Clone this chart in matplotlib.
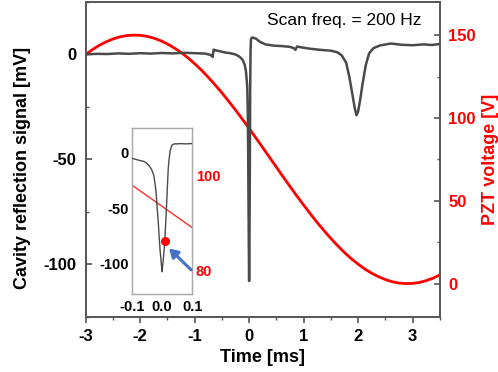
import matplotlib
matplotlib.use("Agg")
import matplotlib.pyplot as plt
from matplotlib.ticker import MultipleLocator

plt.rcParams['font.family'] = ['Liberation Sans', 'DejaVu Sans']
plt.rcParams['axes.unicode_minus'] = False

# ---- data ----
# main cavity reflection signal [mV] vs time [ms]
t_sig = [-3.0, -2.8, -2.6, -2.4, -2.2, -2.0, -1.8, -1.6, -1.4, -1.2, -1.0, -0.8,
         -0.7, -0.67, -0.65, -0.62, -0.55, -0.45, -0.35, -0.25, -0.18, -0.12, -0.08,
         -0.058, -0.035, -0.024, -0.017, -0.010, -0.004, 0.0, 0.004, 0.009, 0.015,
         0.02, 0.026, 0.033, 0.048, 0.07, 0.12, 0.2, 0.3, 0.45, 0.6, 0.75, 0.82,
         0.85, 0.88, 0.95, 1.1, 1.3, 1.5, 1.62, 1.7, 1.78, 1.84, 1.9, 1.94, 1.97,
         2.0, 2.04, 2.08, 2.14, 2.2, 2.28, 2.4, 2.6, 2.8, 3.0, 3.2, 3.35, 3.5]
sig_mv = [0.0, 0.3, 0.2, 0.5, 0.3, 0.6, 0.4, 0.7, 0.5, 0.8, 0.6, 0.4,
          -0.3, -1.2, 2.3, 2.0, 1.6, 1.0, 0.6, 0.0, -1.0, -2.5, -5.0,
          -8.0, -15.0, -27.0, -48.0, -75.0, -96.0, -108.0, -96.0, -78.0, -45.0,
          -15.0, 1.0, 7.0, 8.0, 8.0, 7.6, 6.0, 4.8, 4.2, 4.0, 3.6, 3.0,
          2.2, 3.8, 3.4, 2.8, 2.2, 1.8, 1.0, -0.5, -4.0, -11.0, -20.0, -26.0, -29.0,
          -27.0, -21.0, -14.0, -5.0, 0.5, 3.0, 4.3, 5.2, 4.6, 4.4, 4.8, 4.5, 5.0]

# PZT voltage [V] vs time [ms]
t_pzt = [-3.0, -2.875, -2.75, -2.625, -2.5, -2.375, -2.25, -2.125, -2.0, -1.875,
         -1.75, -1.625, -1.5, -1.375, -1.25, -1.125, -1.0, -0.875, -0.75, -0.625,
         -0.5, -0.375, -0.25, -0.125, 0.0, 0.125, 0.25, 0.375, 0.5, 0.625, 0.75,
         0.875, 1.0, 1.125, 1.25, 1.375, 1.5, 1.625, 1.75, 1.875, 2.0, 2.125, 2.25,
         2.375, 2.5, 2.625, 2.75, 2.875, 3.0, 3.125, 3.25, 3.375, 3.5]
pzt_v = [138.3, 141.2, 143.8, 145.9, 147.6, 148.9, 149.7, 150.0, 149.9, 149.3,
         148.2, 146.7, 144.7, 142.3, 139.6, 136.4, 132.8, 128.9, 124.6, 120.0,
         115.2, 110.1, 104.8, 99.3, 93.7, 87.9, 82.1, 76.2, 70.3, 64.4, 58.6,
         52.9, 47.4, 42.0, 36.8, 31.9, 27.2, 22.8, 18.7, 15.0, 11.7, 8.7, 6.2,
         4.1, 2.4, 1.1, 0.3, 0.0, 0.1, 0.7, 1.8, 3.3, 5.3]

# inset (zoom around the main resonance)
t_in = [-0.1, -0.08, -0.058, -0.045, -0.035, -0.028, -0.024, -0.02, -0.017, -0.013,
        -0.010, -0.007, -0.004, -0.002, 0.0, 0.002, 0.004, 0.007, 0.009, 0.012,
        0.015, 0.018, 0.02, 0.023, 0.026, 0.03, 0.033, 0.04, 0.048, 0.06, 0.08, 0.1]
sig_in = [-5.0, -6.5, -8.0, -11.0, -15.0, -20.0, -27.0, -36.0, -48.0, -62.0,
          -75.0, -87.0, -96.0, -102.0, -107.0, -101.0, -95.0, -86.0, -78.0, -62.0,
          -45.0, -27.0, -15.0, -6.0, 1.0, 5.0, 7.0, 8.0, 8.0, 8.2, 8.0, 8.3]
t_pzt_in = [-0.1, 0.1]
pzt_in = [98.0, 89.0]
marker_t = [0.009]
marker_mv = [-79.0]

scan_text = "Scan freq. = 200 Hz"

# ---- figure ----
fig = plt.figure(figsize=(4.98, 3.72), dpi=100)
W, H = 498.0, 372.0

ax = fig.add_axes([85.5 / W, 1 - 316.7 / H, (440 - 85.5) / W, (316.7 - 2) / H])
ax2 = ax.twinx()

spine_c = '#555555'
ax.plot(t_sig, sig_mv, color='#4a4a4a', lw=1.8, zorder=3)
ax2.plot(t_pzt, pzt_v, color='#ff0000', lw=2.0, zorder=2)
ax.set_zorder(ax2.get_zorder() + 1)
ax.patch.set_visible(False)

ax.set_xlim(-3, 3.5)
ax.set_ylim(-125, 25)
ax2.set_ylim(-20, 170)

ax.xaxis.set_major_locator(MultipleLocator(1))
ax.xaxis.set_minor_locator(MultipleLocator(0.5))
ax.yaxis.set_major_locator(MultipleLocator(50))
ax.yaxis.set_minor_locator(MultipleLocator(25))
ax2.yaxis.set_major_locator(MultipleLocator(50))
ax2.yaxis.set_minor_locator(MultipleLocator(25))

for a in (ax, ax2):
    for s in a.spines.values():
        s.set_color(spine_c)
        s.set_linewidth(1.2)

ax.tick_params(axis='x', which='major', direction='out', length=4.5, width=1.2,
               color=spine_c, pad=4.5, labelsize=12)
ax.tick_params(axis='x', which='minor', direction='out', length=2.5, width=1.0,
               color=spine_c)
ax.tick_params(axis='y', which='major', direction='in', length=4.5, width=1.2,
               color=spine_c, pad=6.5, labelsize=12)
ax.tick_params(axis='y', which='minor', direction='in', length=2.5, width=1.0,
               color=spine_c)
ax2.tick_params(axis='y', which='major', direction='in', length=4.5, width=1.2,
                color=spine_c, pad=6, labelsize=12, labelcolor='#ff0000')
ax2.tick_params(axis='y', which='minor', direction='in', length=2.5, width=1.0,
                color=spine_c)
for lbl in ax.get_xticklabels() + ax.get_yticklabels() + ax2.get_yticklabels():
    lbl.set_fontweight('bold')

fig.text(262.5 / W, 1 - 358 / H, 'Time [ms]', ha='center', va='center',
         fontsize=13, fontweight='bold')
fig.text(23 / W, 1 - 168 / H, 'Cavity reflection signal [mV]', ha='center',
         va='center', rotation=90, fontsize=13, fontweight='bold')
fig.text(490 / W, 1 - 159 / H, 'PZT voltage [V]', ha='center', va='center',
         rotation=90, fontsize=13, fontweight='bold', color='#ff0000')
fig.text(344.5 / W, 1 - 20 / H, scan_text, ha='center', va='center', fontsize=12.5)

# ---- inset ----
axi = fig.add_axes([132 / W, 1 - 294 / H, (192.3 - 132) / W, (294 - 128.3) / H])
axi2 = axi.twinx()
axi.plot(t_in, sig_in, color='#4a4a4a', lw=1.0, zorder=3)
axi2.plot(t_pzt_in, pzt_in, color='#ff3030', lw=1.0, zorder=2)
axi.plot(marker_t, marker_mv, 'o', color='#ff0000', ms=5.5, zorder=5)
axi.set_zorder(axi2.get_zorder() + 1)
axi.patch.set_visible(False)
axi.set_xlim(-0.1, 0.1)
axi.set_ylim(-127, 22)
axi2.set_ylim(75, 110)
axi.set_xticks([-0.1, 0.0, 0.1])
axi.set_xticklabels(['-0.1', '0.0', '0.1'])
axi.set_yticks([-100, -50, 0])
axi2.set_yticks([80, 100])
for a in (axi, axi2):
    for s in a.spines.values():
        s.set_color('#aaaaaa')
        s.set_linewidth(0.9)
axi.tick_params(axis='both', length=0, labelsize=10.5, pad=2.5)
axi.tick_params(axis='x', pad=4.5)
axi2.tick_params(axis='y', length=0, labelsize=10.5, pad=2.5, labelcolor='#ff0000')
for lbl in axi.get_xticklabels() + axi.get_yticklabels() + axi2.get_yticklabels():
    lbl.set_fontweight('bold')

axi.annotate('', xy=(0.023, -86), xytext=(0.096, -105.3),
             arrowprops=dict(arrowstyle='-|>,head_length=0.5,head_width=0.3',
                             color='#4472c4', lw=2.2, shrinkA=0, shrinkB=0),
             annotation_clip=False)

fig.savefig('out.png', dpi=100)
